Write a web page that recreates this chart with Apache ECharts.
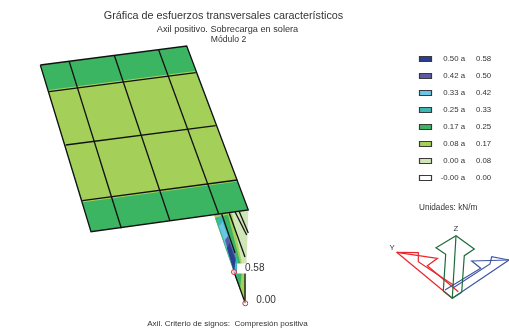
<!DOCTYPE html>
<html>
<head>
<meta charset="utf-8">
<style>
  html, body { margin: 0; padding: 0; background: #fff; }
  #main { width: 509px; height: 332px; }
</style>
<script src="https://cdn.jsdelivr.net/npm/echarts@6/dist/echarts.min.js"></script>
</head>
<body>
<div id="main"></div>
<script>
// legend classes (kN/m)
const legendFrom = ['0.50 a', '0.42 a', '0.33 a', '0.25 a', '0.17 a', '0.08 a', '0.00 a', '-0.00 a'];
const legendTo = ['0.58', '0.50', '0.42', '0.33', '0.25', '0.17', '0.08', '0.00'];
const legendColors = ['#2b3f91', '#5b59a8', '#6cc5e8', '#3cb8b4', '#3cb563', '#a4d05a', '#cfe6b8', '#ffffff'];

// contour patches of the slab and the wall, in plot units, painted in order
const slabPatches = [
  [[40.3, 65], [186.7, 46], [248, 210], [91, 231.7]],
  [[48.2, 90], [195, 71], [238, 181.5], [83, 202.3]]
];
const slabPatchClass = [4, 5];
const wallPatches = [
  [[214, 215], [248.3, 210], [245.3, 303.3]],
  [[214, 215], [232, 213], [246, 285], [245.3, 303.3]],
  [[215, 218], [228, 214.5], [242, 270], [240, 290]],
  [[216.5, 220], [222, 215], [238, 262], [237, 281]],
  [[219, 226], [222.5, 222], [236, 258], [235, 272]],
  [[225, 240], [228, 236], [236, 258], [234, 272]],
  [[227, 248], [229.5, 243], [235.5, 260], [234, 272]]
];
const wallPatchClass = [6, 5, 4, 3, 2, 1, 0];

// element edges
const meshLines = [
  [[40.3, 65], [186.7, 46], [248.3, 210], [91, 231.7], [40.3, 65]],
  [[49, 91.7], [195.7, 72.7]],
  [[65.7, 145], [215.7, 125.7]],
  [[82.3, 200.7], [237.3, 180]],
  [[69.3, 61.7], [121.3, 228.3]],
  [[114.3, 55.3], [170, 221]],
  [[158.7, 50], [218.7, 214]],
  [[221.7, 214], [235, 253]],
  [[229.3, 213.3], [245, 257]],
  [[235, 211.7], [246.7, 235]],
  [[239.3, 211.7], [248.3, 233]],
  [[234, 272], [245.3, 303.3]],
  [[245, 272], [245, 303]]
];

// extreme values on the wall
const extremePoints = [[234, 272, '0.58'], [245.3, 303.3, '0.00']];

// axis triad
const triadRed = [
  [[396.7, 252.3], [452.3, 298.3]],
  [[396.7, 252.3], [437.5, 258.3], [427.3, 265.7], [458.3, 291.7]],
  [[396.7, 252.3], [418.3, 252.7], [418.3, 261.7], [453.3, 285]]
];
const triadBlue = [
  [[452.3, 298.3], [509, 260], [491.7, 256.7], [490, 264], [453.3, 287.7]],
  [[509, 260], [471.7, 261], [480.7, 268.3], [445, 290]]
];
const triadGreen = [
  [[443.3, 291], [452.3, 298.3], [461.7, 292.3]],
  [[443.3, 291], [445.7, 254.3], [436, 247.7], [456, 235.7], [474.3, 249], [464.3, 255.7], [461.7, 292.3]],
  [[456, 235.7], [452.3, 298.3]]
];
const triadLabels = [[392, 248, 'Y'], [456, 229, 'Z']];

const FONT = '"Liberation Sans", Arial, sans-serif';
const TEXT = '#333333';

function polySeries(patches, classes, z) {
  return {
    type: 'custom',
    coordinateSystem: 'cartesian2d',
    silent: true,
    z: z,
    clip: false,
    data: patches.map((p, i) => [i]),
    renderItem: function (params, api) {
      const i = api.value(0);
      return {
        type: 'polygon',
        shape: { points: patches[i].map(p => api.coord(p)) },
        style: { fill: legendColors[classes[i]], stroke: null }
      };
    }
  };
}

function lineSeries(lines, color, width, z) {
  return {
    type: 'custom',
    coordinateSystem: 'cartesian2d',
    silent: true,
    z: z,
    clip: false,
    data: lines.map((l, i) => [i]),
    renderItem: function (params, api) {
      const i = api.value(0);
      return {
        type: 'polyline',
        shape: { points: lines[i].map(p => api.coord(p)) },
        style: { fill: null, stroke: color, lineWidth: width }
      };
    }
  };
}

// swatches and class labels
const legendSeries = {
  type: 'custom',
  coordinateSystem: 'cartesian2d',
  silent: true,
  z: 5,
  data: legendFrom.map((s, i) => [i]),
  renderItem: function (params, api) {
    const i = api.value(0);
    const p = api.coord([419, 59 + i * 17]);
    return {
      type: 'group',
      children: [
        { type: 'rect', shape: { x: p[0] + 0.5, y: Math.round(p[1]) - 2.5, width: 12, height: 5 },
          style: { fill: legendColors[i], stroke: '#3a3a3a', lineWidth: 1.2 } },
        { type: 'text', style: { x: p[0] + 46, y: p[1], text: legendFrom[i], align: 'right', verticalAlign: 'middle',
          fill: TEXT, font: '7.8px ' + FONT } },
        { type: 'text', style: { x: p[0] + 57, y: p[1], text: legendTo[i], align: 'left', verticalAlign: 'middle',
          fill: TEXT, font: '7.8px ' + FONT } }
      ]
    };
  }
};

const triadTextSeries = {
  type: 'custom',
  coordinateSystem: 'cartesian2d',
  silent: true,
  z: 5,
  data: triadLabels.map((s, i) => [i]),
  renderItem: function (params, api) {
    const t = triadLabels[api.value(0)];
    const p = api.coord([t[0], t[1]]);
    return { type: 'text', style: { x: p[0], y: p[1], text: t[2], align: 'center', verticalAlign: 'middle',
      fill: TEXT, font: '7.8px ' + FONT } };
  }
};

function titleAt(text, x, y, size, align) {
  return { text: text, left: x, top: y, padding: 0, textAlign: align || 'center',
    textStyle: { color: TEXT, fontFamily: FONT, fontWeight: 'normal', fontSize: size } };
}

var myChart = echarts.init(document.getElementById('main'), null, { renderer: 'canvas' });
var option = {
  animation: false,
  backgroundColor: '#fff',
  title: [
    titleAt('Gráfica de esfuerzos transversales característicos', 223.5, 10.5, 10.8),
    titleAt('Axil positivo. Sobrecarga en solera', 227.5, 24.5, 9.2),
    titleAt('Módulo 2', 228.5, 35, 8.6),
    titleAt('Axil. Criterio de signos:  Compresión positiva', 227.5, 320, 8.1),
    titleAt('Unidades: kN/m', 419, 204, 8.2, 'left')
  ],
  grid: { left: 0, right: 0, top: 0, bottom: 0 },
  xAxis: { type: 'value', min: 0, max: 509, show: false },
  yAxis: { type: 'value', min: 0, max: 332, inverse: true, show: false },
  series: [
    polySeries(wallPatches, wallPatchClass, 2),
    polySeries(slabPatches, slabPatchClass, 2),
    lineSeries(meshLines, '#111', 1.3, 3),
    lineSeries(triadRed, '#e8262c', 1.2, 3),
    lineSeries(triadBlue, '#3f56a6', 1.2, 3),
    lineSeries(triadGreen, '#1f6b3c', 1.2, 4),
    legendSeries,
    triadTextSeries,
    {
      type: 'scatter',
      silent: true,
      z: 6,
      symbolSize: 5,
      clip: false,
      itemStyle: { color: 'rgba(255,255,255,0.6)', borderColor: '#e8262c', borderWidth: 1, opacity: 1 },
      label: {
        show: true,
        position: 'right',
        distance: 0,
        offset: [0, -3.5],
        formatter: p => p.value[2],
        color: TEXT,
        fontFamily: FONT,
        fontSize: 10,
        backgroundColor: '#fff',
        padding: [0, 2, 0, 8]
      },
      data: extremePoints
    }
  ]
};
option && myChart.setOption(option);
</script>
</body>
</html>
